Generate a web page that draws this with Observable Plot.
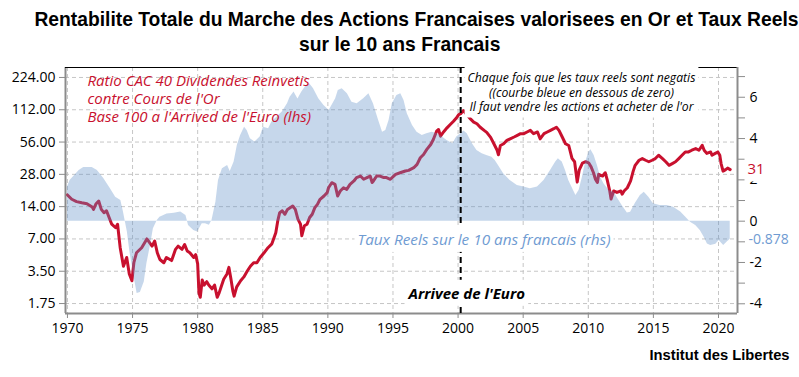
<!DOCTYPE html>
<html><head><meta charset="utf-8">
<script src="https://cdn.jsdelivr.net/npm/d3@7"></script>
<script src="https://cdn.jsdelivr.net/npm/@observablehq/plot@0.6"></script>
<style>
body{margin:0;background:#fff;width:799px;height:377px;overflow:hidden}
#title{height:60px;box-sizing:border-box;padding-top:6px;text-align:center;font-family:"Liberation Sans",Arial,sans-serif;font-weight:bold;font-size:21px;line-height:25px;color:#000;white-space:nowrap}
#title span{display:inline-block;transform-origin:50% 50%}
#chart{position:relative;width:799px;height:285px}
#chart svg{position:absolute;left:0;top:0}
#caption{text-align:right;padding-right:9px;font-family:"Liberation Sans",Arial,sans-serif;font-weight:bold;font-size:15px;line-height:20px;color:#000;white-space:nowrap}
#caption span{display:inline-block;transform-origin:100% 50%}
</style></head><body>
<div id="title"></div>
<div id="chart"></div>
<div id="caption"></div>
<script>
const titleLines = ["Rentabilite Totale du Marche des Actions Francaises valorisees en Or et Taux Reels", "sur le 10 ans Francais"];
const captionText = "Institut des Libertes";
const leftTicks = [1.75, 3.5, 7, 14, 28, 56, 112, 224];
const rightTicks = [-4, -3, -2, -1, 0, 1, 2, 3, 4, 5, 6, 7];
const xTicks = [1970, 1975, 1980, 1985, 1990, 1995, 2000, 2005, 2010, 2015, 2020];
const xDomain = [1969.85, 2021.46];
const leftDomain = [1.413, 277.4];
const rightDomain = [-4.47, 7.44];
const euroYear = [2000.2];
const redLabel = "Ratio CAC 40 Dividendes Reinvetis\ncontre Cours de l'Or\nBase 100 a l'Arrived de l'Euro (lhs)";
const noteLabel = "Chaque fois que les taux reels sont negatis\n((courbe bleue en dessous de zero)\nIl faut vendre les actions et acheter de l'or";
const blueLabel = "Taux Reels sur le 10 ans francais (rhs)";
const euroLabel = "Arrivee de l'Euro";

// Ratio CAC 40 dividendes reinvestis / or (left axis, log)
const redSeries = [
[1970.0,18.0],[1970.33,16.4],[1970.7,15.6],[1971.1,15.2],[1971.5,14.9],[1971.9,13.9],[1972.0,13.2],[1972.2,14.9],[1972.4,15.8],[1972.6,13.2],[1972.8,12.3],[1973.0,12.8],[1973.2,11.1],[1973.4,9.6],[1973.7,8.9],[1973.85,9.6],[1974.05,5.8],[1974.3,3.9],[1974.55,4.7],[1974.75,3.3],[1974.95,2.85],[1975.1,4.2],[1975.3,5.2],[1975.7,5.8],[1976.1,7.0],[1976.5,6.0],[1976.7,6.7],[1976.9,5.2],[1977.1,4.5],[1977.4,4.2],[1977.6,4.7],[1978.0,4.4],[1978.3,5.6],[1978.5,6.0],[1978.8,5.6],[1979.0,6.2],[1979.2,5.4],[1979.4,5.2],[1979.7,4.7],[1979.85,5.0],
[1980.0,4.1],[1980.1,2.2],[1980.2,2.0],[1980.35,2.9],[1980.5,2.6],[1980.7,2.8],[1980.85,2.6],[1981.1,2.4],[1981.3,2.6],[1981.5,2.0],[1981.65,2.2],[1981.8,2.5],[1982.0,2.95],[1982.25,3.3],[1982.4,3.8],[1982.55,3.0],[1982.7,2.3],[1982.8,2.05],[1983.0,2.5],[1983.3,2.85],[1983.55,3.1],[1983.8,3.5],[1984.05,3.9],[1984.3,4.2],[1984.55,4.2],[1984.8,4.7],[1985.1,5.2],[1985.4,5.8],[1985.7,6.3],[1986.0,8.0],[1986.15,10.3],[1986.3,12.3],[1986.5,12.8],[1986.7,11.9],[1986.9,13.2],[1987.1,13.7],[1987.3,14.2],[1987.5,13.2],[1987.7,10.7],[1987.9,9.6],[1988.0,7.5],[1988.2,9.3],[1988.4,9.6],[1988.6,11.1],[1988.8,11.9],[1989.0,13.7],[1989.2,14.7],[1989.4,16.4],[1989.7,17.6],[1989.95,18.9],
[1990.05,21.0],[1990.3,23.4],[1990.55,22.6],[1990.75,17.6],[1990.95,19.6],[1991.2,21.0],[1991.45,20.3],[1991.7,22.6],[1992.0,24.3],[1992.2,26.1],[1992.5,27.0],[1992.75,25.2],[1993.0,26.1],[1993.25,27.0],[1993.4,23.5],[1993.5,24.3],[1993.75,27.0],[1994.0,27.0],[1994.3,26.1],[1994.5,26.1],[1994.8,25.2],[1995.2,28.0],[1995.55,29.0],[1995.95,30.1],[1996.2,30.5],[1996.6,32.3],[1996.85,34.7],[1997.1,40.0],[1997.35,42.9],[1997.6,47.8],[1997.9,53.1],[1998.1,59.2],[1998.35,70.7],[1998.5,73.3],[1998.65,63.5],[1998.9,70.0],[1999.15,76.0],[1999.4,81.6],[1999.65,87.6],[1999.9,95.0],
[2000.05,101],[2000.2,103],[2000.4,110],[2000.7,100],[2000.95,92],[2001.2,86],[2001.45,83],[2001.7,77],[2002.0,72],[2002.2,69],[2002.5,62],[2002.75,54],[2003.0,47],[2003.1,42.6],[2003.25,52],[2003.5,54],[2003.75,58],[2004.0,60],[2004.3,62.4],[2004.55,64.6],[2004.8,67],[2005.05,67],[2005.3,69.5],[2005.55,72],[2005.8,67],[2006.1,69.5],[2006.3,60],[2006.6,67],[2006.85,69.5],[2007.1,72],[2007.35,74.6],[2007.55,77],[2007.75,72],[2008.0,62.4],[2008.25,54],[2008.5,52],[2008.75,39.4],[2008.95,36.7],[2009.15,23.7],[2009.3,30.6],[2009.55,35.6],[2009.8,36.7],
[2010.05,35.6],[2010.2,33.2],[2010.4,29],[2010.55,25.2],[2010.7,23.5],[2010.8,28],[2011.1,27],[2011.3,29],[2011.45,25],[2011.65,19.6],[2011.75,16.5],[2011.95,19.6],[2012.2,19],[2012.5,19.6],[2012.6,18.3],[2012.75,19.6],[2013.0,21],[2013.25,24.3],[2013.45,30],[2013.6,34],[2013.9,37.9],[2014.15,39.3],[2014.4,37.9],[2014.65,36.7],[2014.9,37.9],[2015.15,39.3],[2015.4,42.2],[2015.7,39.3],[2015.95,36.7],[2016.2,34],[2016.45,35.3],[2016.7,36.7],[2016.95,39.3],[2017.2,42.2],[2017.45,45.3],[2017.7,45.3],[2017.95,47],[2018.25,48.7],[2018.5,47],[2018.75,52.2],[2018.9,47],[2019.1,43.9],[2019.4,45.3],[2019.5,42.2],[2019.75,43.9],[2019.95,45.3],[2020.1,42.2],[2020.2,35.3],[2020.35,30],[2020.55,31],[2020.7,32],[2020.9,31]
];

// Taux reels 10 ans France (right axis)
const rateSeries = [
[1970.0,1.65],[1970.2,1.97],[1970.9,2.45],[1971.25,2.6],[1971.9,2.6],[1972.3,2.45],[1972.8,2.05],[1973.3,1.57],[1973.7,1.16],[1974.1,1.0],[1974.3,0.44],[1974.6,-0.53],[1974.8,-1.5],[1975.1,-2.63],[1975.35,-3.5],[1975.6,-3.45],[1975.9,-2.95],[1976.1,-2.06],[1976.4,-1.1],[1976.6,-0.37],[1976.9,0.03],[1977.1,0.19],[1977.4,0.27],[1977.65,0.35],[1978.2,0.38],[1978.7,0.44],[1979.1,0.27],[1979.3,-0.21],[1979.7,-0.45],
[1980.0,-0.53],[1980.35,-0.13],[1980.6,-0.13],[1980.9,-0.2],[1981.1,0.03],[1981.4,0.92],[1981.6,1.97],[1981.9,2.54],[1982.3,2.7],[1982.5,2.4],[1982.8,2.86],[1983.05,3.67],[1983.3,4.15],[1983.6,4.55],[1983.8,4.39],[1984.05,3.99],[1984.4,3.83],[1984.8,4.07],[1985.05,4.55],[1985.45,4.47],[1985.7,4.8],[1986.1,5.04],[1986.5,5.28],[1986.9,5.68],[1987.1,6.0],[1987.4,6.25],[1987.7,5.92],[1988.0,6.25],[1988.35,6.57],[1988.6,6.65],[1988.9,6.41],[1989.3,5.93],[1989.7,5.6],
[1990.1,5.36],[1990.6,5.93],[1990.8,6.33],[1991.1,6.41],[1991.5,6.17],[1991.85,5.76],[1992.25,5.68],[1992.75,5.93],[1993.15,6.17],[1993.5,5.68],[1993.9,4.88],[1994.2,4.31],[1994.45,4.39],[1994.7,4.88],[1994.95,5.68],[1995.3,6.09],[1995.6,6.17],[1995.85,5.84],[1996.1,5.2],[1996.5,4.63],[1996.85,4.31],[1997.25,4.15],[1997.6,4.23],[1998.0,4.31],[1998.4,4.23],[1998.8,4.07],[1999.15,3.91],[1999.6,3.75],[1999.9,4.07],
[2000.45,4.36],[2000.7,4.23],[2001.1,3.75],[2001.45,3.42],[2001.85,3.26],[2002.2,3.18],[2002.6,3.1],[2002.85,2.94],[2003.1,2.7],[2003.5,2.3],[2004.0,1.97],[2004.55,1.73],[2005.05,1.65],[2005.55,1.57],[2006.1,1.65],[2006.6,1.97],[2007.1,2.45],[2007.5,2.86],[2007.7,3.02],[2008.0,2.86],[2008.25,2.45],[2008.5,1.97],[2008.8,1.57],[2009.05,1.24],[2009.3,1.5],[2009.55,2.13],[2009.8,2.86],
[2010.05,3.34],[2010.2,3.46],[2010.45,3.18],[2010.7,2.7],[2010.95,2.13],[2011.2,1.81],[2011.6,1.49],[2012.0,1.4],[2012.2,1.16],[2012.6,0.76],[2013.0,0.39],[2013.25,0.43],[2013.6,0.84],[2014.0,1.24],[2014.3,1.4],[2014.65,1.16],[2015.0,0.84],[2015.5,0.76],[2016.05,0.76],[2016.55,0.68],[2017.1,0.44],[2017.6,0.12],[2017.85,-0.05],[2018.25,-0.21],[2018.6,-0.45],[2018.9,-0.78],[2019.15,-1.1],[2019.4,-1.18],[2019.8,-1.12],[2020.05,-0.93],[2020.4,-1.18],[2020.65,-1.02],[2020.9,-0.878]
];

const RED = "#c8102e";
const BLUE_TEXT = "#6f9bd2";
const AREA_FILL = "rgb(98,145,200)";
const AXIS_GRAY = "#8c8c8c";
const GRID_GRAY = "#c6c6c6";
const TICK_FONT = "Open Sans";
const NOTE_FONT = "Open Sans";
const TITLE_WIDTH = 764;    // width of the first title line in the reference
const CAPTION_WIDTH = 140;

// title and caption (real text, horizontally condensed to the reference width)
const titleDiv = document.getElementById("title");
const titleSpans = titleLines.map((line, i) => {
  const s = document.createElement("span");
  s.textContent = line;
  titleDiv.appendChild(s);
  if (i < titleLines.length - 1) titleDiv.appendChild(document.createElement("br"));
  return s;
});
const tScale = TITLE_WIDTH / titleSpans[0].getBoundingClientRect().width;
titleSpans.forEach(s => s.style.transform = `scaleX(${tScale})`);
const capDiv = document.getElementById("caption");
const capSpan = document.createElement("span");
capSpan.textContent = captionText;
capDiv.appendChild(capSpan);
capSpan.style.transform = `scaleX(${CAPTION_WIDTH / capSpan.getBoundingClientRect().width})`;

const W = 799, H = 285, mt = 7, mb = 32, ml = 65, mr = 62;
const red = redSeries.map(([year, value]) => ({year, value}));
const rate = rateSeries.map(([year, value]) => ({year, value}));
const lastRed = red[red.length - 1].value;
const lastRate = rate[rate.length - 1].value;
const lastRedText = String(Math.round(lastRed));

const common = {
  width: W, height: H, marginTop: mt, marginBottom: mb, marginLeft: ml, marginRight: mr,
  style: {fontFamily: TICK_FONT, fontSize: "14px", color: "#000", background: "transparent", overflow: "visible"}
};

const yL = Plot.scale({y: {type: "log", base: 2, domain: leftDomain, range: [H - mb, mt]}});
const yR = Plot.scale({y: {type: "linear", domain: rightDomain, range: [H - mb, mt]}});

const bottomPlot = Plot.plot({
  ...common,
  x: {domain: xDomain, label: null},
  y: {type: "log", base: 2, domain: leftDomain, label: null},
  marks: [
    Plot.ruleY(leftTicks, {stroke: GRID_GRAY, strokeDasharray: "4,3"}),
    Plot.ruleX(xTicks, {stroke: GRID_GRAY, strokeDasharray: "4,3"}),
    Plot.line(red, {x: "year", y: "value", stroke: RED, strokeWidth: 3, strokeLinejoin: "round"}),
    Plot.axisY({anchor: "left", ticks: leftTicks, tickFormat: d3.format(".2f"), tickSize: 6, tickPadding: 4, stroke: AXIS_GRAY, fill: "#000", fontSize: 14, label: null}),
    Plot.axisX({anchor: "bottom", ticks: xTicks, tickFormat: d => String(d), tickSize: 5, tickPadding: 5, stroke: AXIS_GRAY, fill: "#000", fontSize: 14, label: null}),
    Plot.ruleX([xDomain[0]], {stroke: AXIS_GRAY, strokeWidth: 2}),
    Plot.ruleY([leftDomain[0]], {stroke: AXIS_GRAY, strokeWidth: 2})
  ]
});

const topPlot = Plot.plot({
  ...common,
  x: {domain: xDomain, label: null, axis: null},
  y: {type: "linear", domain: rightDomain, label: null},
  marks: [
    Plot.areaY(rate, {x: "year", y: "value", fill: AREA_FILL, fillOpacity: 0.36}),
    Plot.ruleY([rightDomain[1]], {stroke: "#000", strokeWidth: 1}),
    Plot.ruleX([xDomain[1]], {stroke: AXIS_GRAY, strokeWidth: 2}),
    Plot.ruleX(euroYear, {stroke: "#000", strokeWidth: 2, strokeDasharray: "6,4"}),
    Plot.axisY({anchor: "right", ticks: rightTicks, tickFormat: d => d % 2 === 0 ? String(d) : "", tickSize: 7, tickPadding: 5, stroke: AXIS_GRAY, fill: "#000", fontSize: 14, label: null}),
    Plot.text([redLabel], {frameAnchor: "top-left", lineAnchor: "middle", text: d => d, dx: 22, dy: 31, textAnchor: "start", lineHeight: 1.2, fontSize: 15, fontStyle: "italic", fontFamily: NOTE_FONT, fill: RED}),
    Plot.text([noteLabel], {frameAnchor: "top-left", lineAnchor: "middle", text: d => d, dx: 516, dy: 24.5, textAnchor: "middle", lineHeight: 1.15, fontSize: 12.2, fontStyle: "italic", fontFamily: NOTE_FONT, fill: "#000"}),
    Plot.text([blueLabel], {frameAnchor: "top-left", lineAnchor: "middle", text: d => d, dx: 292, dy: 172.5, textAnchor: "start", fontSize: 15.3, fontStyle: "italic", fontFamily: NOTE_FONT, fill: BLUE_TEXT}),
    Plot.text([euroLabel], {frameAnchor: "top-left", lineAnchor: "middle", text: d => d, dx: 343, dy: 226.5, textAnchor: "start", fontSize: 15, fontStyle: "italic", fontWeight: "bold", fontFamily: NOTE_FONT, fill: "#000"}),
    Plot.text([lastRed], {frameAnchor: "right", y: d => yR.invert(yL.apply(d)), text: () => lastRedText, dx: 10, textAnchor: "start", fontSize: 15, fill: RED}),
    Plot.text([lastRate], {frameAnchor: "right", y: d => d, text: d => String(d), dx: 11, textAnchor: "start", fontSize: 14, fill: BLUE_TEXT})
  ]
});

const chart = document.getElementById("chart");
chart.appendChild(bottomPlot);
chart.appendChild(topPlot);

// white backgrounds behind the boxed annotation texts (computed from each text's own box)
const boxed = new Set([noteLabel.replace(/\n/g, ""), blueLabel, euroLabel, lastRedText]);
topPlot.querySelectorAll("text").forEach(t => {
  if (!boxed.has(t.textContent)) return;
  const b = t.getBBox();
  const pad = 3;
  const r = document.createElementNS("http://www.w3.org/2000/svg", "rect");
  r.setAttribute("x", b.x - pad);
  r.setAttribute("y", b.y - pad);
  r.setAttribute("width", b.width + 2 * pad);
  r.setAttribute("height", b.height + 2 * pad);
  r.setAttribute("fill", "#fff");
  r.setAttribute("stroke", "none");
  const tr = t.getAttribute("transform");
  if (tr) r.setAttribute("transform", tr);
  t.parentNode.insertBefore(r, t);
});
</script>
</body></html>
